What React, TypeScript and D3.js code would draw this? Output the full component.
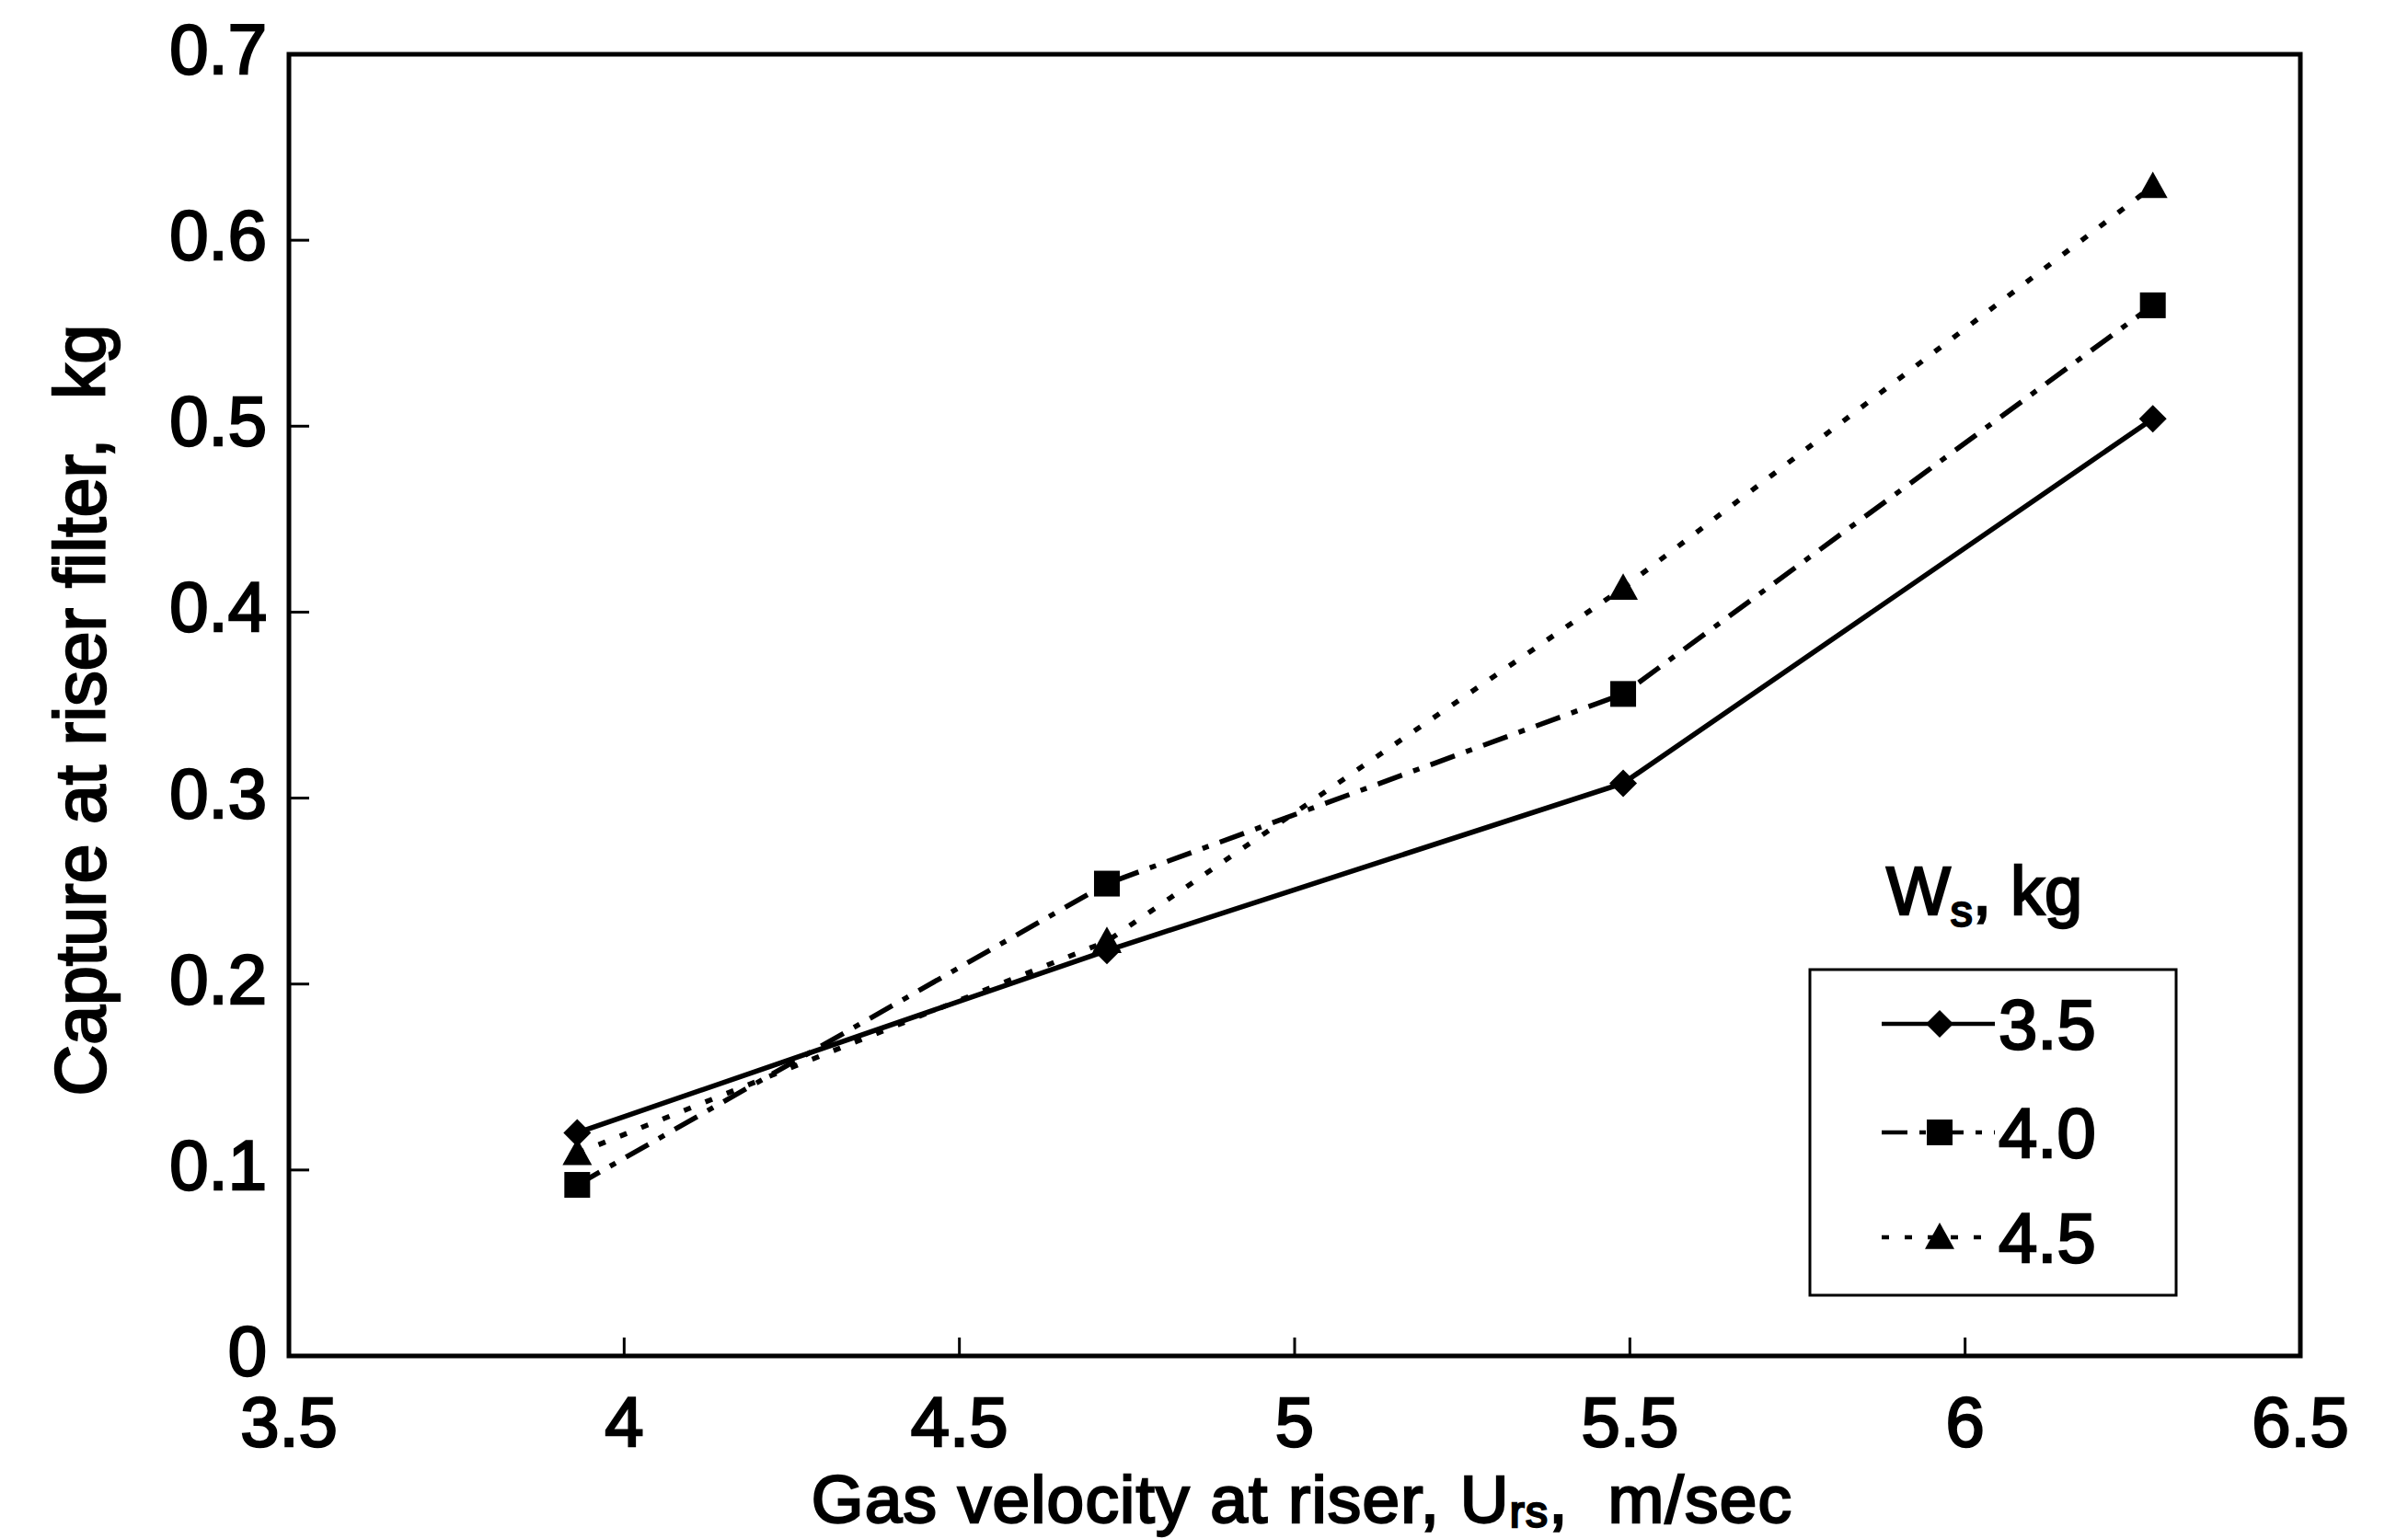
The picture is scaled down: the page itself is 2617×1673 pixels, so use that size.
import React, { useEffect, useRef } from "react";
import * as d3 from "d3";

// Gas velocity at the riser (m/s)
const velocity = [3.93, 4.72, 5.49, 6.28];
// Capture at the riser filter (kg) for each solids inventory Ws
const capture35 = [0.12, 0.218, 0.308, 0.504];
const capture40 = [0.092, 0.254, 0.356, 0.565];
const capture45 = [0.109, 0.223, 0.413, 0.629];

const seriesLabels = ["3.5", "4.0", "4.5"];
const xTicks = [3.5, 4, 4.5, 5, 5.5, 6, 6.5];
const yTicks = [0, 0.1, 0.2, 0.3, 0.4, 0.5, 0.6, 0.7];

const W = 2617;
const H = 1673;
const FONT = "'Liberation Sans', Arial, Helvetica, sans-serif";
const INK = 2.4;

export default function App() {
  const ref = useRef<SVGSVGElement>(null);

  useEffect(() => {
    const svg = d3.select(ref.current);
    svg.selectAll("*").remove();

    const left = 314, right = 2500, top = 59, bottom = 1474;
    const x = d3.scaleLinear().domain([3.5, 6.5]).range([left, right]);
    const y = d3.scaleLinear().domain([0, 0.7]).range([bottom, top]);

    svg.append("rect").attr("width", W).attr("height", H).attr("fill", "#fff");

    const g = svg.append("g");

    const txt = (sel: any, size: number) =>
      sel
        .attr("font-family", FONT)
        .attr("font-size", size)
        .attr("fill", "#000")
        .attr("stroke", "#000")
        .attr("stroke-width", INK);

    // inward ticks
    g.selectAll(".xt")
      .data(xTicks.slice(1, -1))
      .enter()
      .append("line")
      .attr("x1", (d) => x(d))
      .attr("x2", (d) => x(d))
      .attr("y1", bottom)
      .attr("y2", bottom - 20)
      .attr("stroke", "#000")
      .attr("stroke-width", 3);
    g.selectAll(".yt")
      .data(yTicks.slice(1, -1))
      .enter()
      .append("line")
      .attr("x1", left)
      .attr("x2", left + 22)
      .attr("y1", (d) => y(d))
      .attr("y2", (d) => y(d))
      .attr("stroke", "#000")
      .attr("stroke-width", 3);

    // tick labels
    g.selectAll(".xl")
      .data(xTicks)
      .enter()
      .append("text")
      .attr("x", (d) => x(d))
      .attr("y", bottom + 98)
      .attr("text-anchor", "middle")
      .call(txt, 76)
      .text((d) => d3.format("")(d));
    g.selectAll(".yl")
      .data(yTicks)
      .enter()
      .append("text")
      .attr("x", left - 24)
      .attr("y", (d) => y(d) + 21)
      .attr("text-anchor", "end")
      .call(txt, 76)
      .text((d) => (d === 0 ? "0" : d3.format(".1f")(d)));

    // frame
    g.append("rect")
      .attr("x", left)
      .attr("y", top)
      .attr("width", right - left)
      .attr("height", bottom - top)
      .attr("fill", "none")
      .attr("stroke", "#000")
      .attr("stroke-width", 5);

    const line = d3
      .line<number>()
      .x((_, i) => x(velocity[i]))
      .y((d) => y(d));

    const styles = [
      { data: capture35, dash: null as string | null, shape: "diamond" },
      { data: capture40, dash: "28,13,7,13", shape: "square" },
      { data: capture45, dash: "8,17", shape: "triangle" },
    ];

    const marker = (sel: any, shape: string, cx: number, cy: number) => {
      if (shape === "diamond") {
        const r = 15;
        sel.append("path")
          .attr("d", `M${cx},${cy - r}L${cx + r},${cy}L${cx},${cy + r}L${cx - r},${cy}Z`)
          .attr("fill", "#000");
      } else if (shape === "square") {
        const r = 14;
        sel.append("rect")
          .attr("x", cx - r)
          .attr("y", cy - r)
          .attr("width", 2 * r)
          .attr("height", 2 * r)
          .attr("fill", "#000");
      } else {
        const r = 16;
        sel.append("path")
          .attr("d", `M${cx},${cy - r}L${cx + r},${cy + r * 0.8}L${cx - r},${cy + r * 0.8}Z`)
          .attr("fill", "#000");
      }
    };

    styles.forEach((s) => {
      const p = g.append("path")
        .attr("d", line(s.data))
        .attr("fill", "none")
        .attr("stroke", "#000")
        .attr("stroke-width", 5.5);
      if (s.dash) p.attr("stroke-dasharray", s.dash);
      s.data.forEach((v, i) => marker(g, s.shape, x(velocity[i]), y(v)));
    });

    // legend
    const lg = g.append("g");
    lg.append("text")
      .attr("x", 2050)
      .attr("y", 994)
      .call(txt, 74)
      .call((t: any) => {
        t.append("tspan").text("W");
        t.append("tspan").attr("font-size", 48).attr("dy", 13).text("s");
        t.append("tspan").attr("dy", -13).text(", kg");
      });
    lg.append("rect")
      .attr("x", 1967)
      .attr("y", 1054)
      .attr("width", 398)
      .attr("height", 354)
      .attr("fill", "#fff")
      .attr("stroke", "#000")
      .attr("stroke-width", 3);
    const rowsY = [1113, 1231, 1345];
    styles.forEach((s, i) => {
      const ly = rowsY[i];
      const p = lg.append("line")
        .attr("x1", 2045)
        .attr("x2", 2168)
        .attr("y1", ly)
        .attr("y2", ly)
        .attr("stroke", "#000")
        .attr("stroke-width", 4.5);
      if (s.dash) p.attr("stroke-dasharray", s.dash);
      marker(lg, s.shape, 2108, ly);
      lg.append("text")
        .attr("x", 2172)
        .attr("y", ly + 27)
        .call(txt, 76)
        .text(seriesLabels[i]);
    });

    // axis titles
    g.append("text")
      .attr("x", 1415)
      .attr("y", 1655)
      .attr("text-anchor", "middle")
      .attr("letter-spacing", 1.2)
      .call(txt, 73)
      .call((t: any) => {
        t.append("tspan").text("Gas velocity at riser, U");
        t.append("tspan").attr("font-size", 48).attr("dy", 5).text("rs");
        t.append("tspan").attr("dy", -5).text(",\u00a0\u00a0m/sec");
      });
    g.append("text")
      .attr("transform", `translate(114,772) rotate(-90)`)
      .attr("text-anchor", "middle")
      .call(txt, 77)
      .text("Capture at riser filter,\u00a0\u00a0kg");
  }, []);

  return (
    <svg
      ref={ref}
      width={W}
      height={H}
      style={{ position: "absolute", left: 0, top: 0 }}
    />
  );
}
